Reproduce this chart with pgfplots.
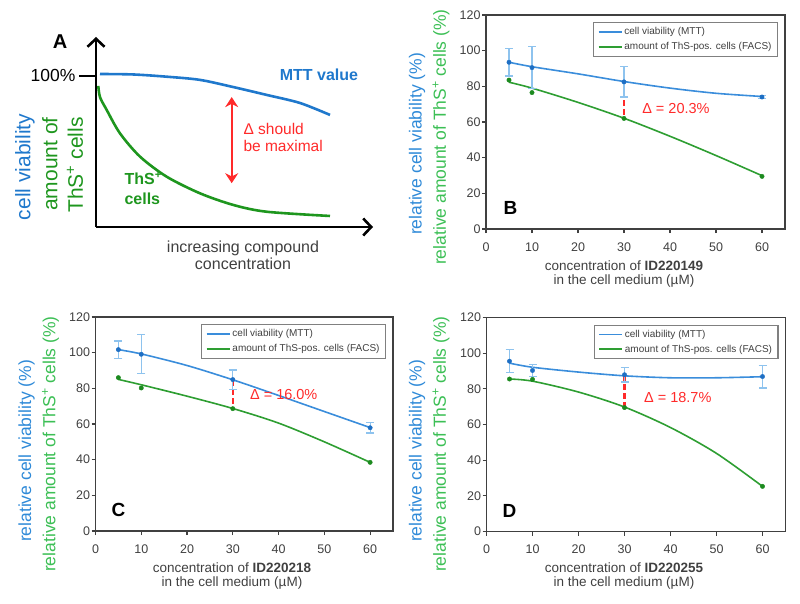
\documentclass[border=0pt]{standalone}
\usepackage{pgfplots}
\pgfplotsset{compat=1.18}
\usepackage{fontspec}
\setmainfont{Liberation Sans}
\usetikzlibrary{arrows.meta}
\definecolor{blueline}{HTML}{3A8DDB}
\definecolor{bluemark}{HTML}{1E6FC4}
\definecolor{blueerr}{HTML}{8EC3EE}
\definecolor{greenline}{HTML}{2E9E32}
\definecolor{greenmark}{HTML}{1C8A1F}
\definecolor{bluelab}{HTML}{2F8AD8}
\definecolor{greenlab}{HTML}{3CBF55}
\definecolor{blueA}{HTML}{1F78CC}
\definecolor{greenA}{HTML}{1E961E}
\definecolor{axgray}{HTML}{404040}
\definecolor{dred}{HTML}{FF2A2A}
\newcommand{\fs}[1]{\fontsize{#1}{#1}\selectfont}
\pgfplotsset{
  panel/.style={scale only axis, anchor=south west,
    width=299pt, height=214pt,
    xmin=0, xmax=65, ymin=0, ymax=120,
    xtick={0,10,...,60}, ytick={0,20,...,120},
    xtick pos=lower, ytick pos=left,
    tick align=outside, major tick length=4pt,
    axis line style={axgray, line width=1.5pt},
    tick style={axgray, line width=1.2pt},
    ticklabel style={font=\fs{12.5}, text=axgray},
    xticklabel style={yshift=-6pt},
    yticklabel style={xshift=2pt},
    /pgf/number format/assume math mode=true,
    clip=false,
    legend cell align=left,
    legend style={at={(rel axis cs:0.977,0.967)}, anchor=north east,
      draw=gray, line width=1.2pt, fill=white, font=\fs{10}, text=axgray,
      inner xsep=4pt, inner ysep=3pt, row sep=2pt},
    legend image code/.code={\draw[##1, line width=1.6pt] (0pt,0pt) -- (23pt,0pt);},
  },
  fitb/.style={blueline, line width=1.6pt, smooth, no marks},
  fitg/.style={greenline, line width=1.6pt, smooth, no marks},
  markb/.style={forget plot, only marks, mark=*, mark size=2.2pt, bluemark,
    error bars/.cd, y dir=both, y explicit,
    error bar style={blueerr, line width=1.2pt},
    error mark options={rotate=90, blueerr, mark size=4pt, line width=1.2pt}},
  markg/.style={forget plot, only marks, mark=*, mark size=2.2pt, greenmark},
  delta/.style={dred, line width=2.2pt, dash pattern=on 6pt off 3pt, forget plot},
}
\begin{document}
\begin{tikzpicture}
\useasboundingbox (0pt,0pt) rectangle (800pt,-604pt);

% ---------------- Panel A ----------------
\begin{axis}[scale only axis, anchor=south west, at={(96pt,-227pt)},
  width=277pt, height=190pt, xmin=0, xmax=277, ymin=0, ymax=125.8,
  axis x line=bottom, axis y line=left,
  every outer x axis line/.append style={black, line width=2.6pt, -{Straight Barb[length=8pt,width=17pt]}},
  every outer y axis line/.append style={black, line width=2.6pt, -{Straight Barb[length=8pt,width=17pt]}},
  xtick=\empty, ytick={100}, yticklabels={100\%},
  tick align=outside, major tick length=17pt,
  tick style={black, line width=2.6pt},
  yticklabel style={font=\fs{17.5}},
  clip=false]
\addplot[blueA, line width=2.6pt, smooth] coordinates {(4,101.3) (37,101) (71,99.5) (104,97.4) (137,92.7) (171,87.4) (204,82.1) (234,74.2)};
\addplot[greenA, line width=2.6pt, smooth] coordinates {(2.3,93.4) (4,86) (10.7,77.5) (24,62) (44,46.6) (70.7,33.3) (104,22.3) (137.3,14.6) (170.7,10.1) (234,7.3)};
\draw[dred, line width=2.2pt, {Stealth[length=10pt,width=13pt]}-{Stealth[length=10pt,width=13pt]}] (axis cs:135.7,86) -- (axis cs:135.7,29);
\end{axis}
\node[font=\bfseries\fs{20}] at (60pt,-42pt) {A};
\node[font=\bfseries\fs{16}, text=blueA] at (319pt,-75pt) {MTT value};
\node[font=\fs{15.5}, text=dred, align=left, anchor=west] at (240pt,-137.5pt) {Δ should\\[1pt]be maximal};
\node[font=\bfseries\fs{16}, text=greenA, align=left, anchor=west] at (121pt,-188.5pt) {ThS\textsuperscript{+}\\[4pt]cells};
\node[font=\fs{21}, text=blueA, rotate=90] at (25pt,-167pt) {cell viability};
\node[font=\fs{21}, text=greenA, rotate=90] at (50pt,-164pt) {amount of};
\node[font=\fs{21}, text=greenA, rotate=90] at (75pt,-165pt) {ThS\textsuperscript{+} cells};
\node[font=\fs{16}, align=center, text=axgray] at (243pt,-255pt) {increasing compound\\[1pt]concentration};

% ---------------- Panel B ----------------
\begin{axis}[panel, at={(486pt,-229pt)}]
\addplot[fitb] coordinates {(5,93.5) (10,91) (20,87) (30,82.7) (40,79) (50,76.1) (60,74.3)};
\addplot[fitg] coordinates {(5,82.3) (10,79) (20,71) (30,62.1) (40,52) (50,41.2) (60,29.9)};
\legend{cell viability (MTT), amount of ThS-pos. cells (FACS)}
\addplot[delta] coordinates {(30,82.5) (30,62)};
\addplot[markb] coordinates {(5,93.5) +- (0,7.7) (10,90.5) +- (0,11.7) (30,82.5) +- (0,8.5) (60,74) +- (0,1)};
\addplot[markg] coordinates {(5,83.5) (10,76.5) (30,62) (60,29.5)};
\node[anchor=west, text=dred, font=\fs{14.5}] at (axis cs:33.2,67.3) {Δ = 20.3\%};
\node[font=\bfseries\fs{19}] at (axis cs:5.3,12) {B};
\end{axis}
\node[rotate=90, font=\fs{17.5}, text=bluelab] at (417pt,-144pt) {relative cell viability (\%)};
\node[rotate=90, font=\fs{17.5}, text=greenlab] at (441pt,-137pt) {relative amount of ThS\textsuperscript{+} cells (\%)};
\node[align=center, font=\fs{13.5}, text=axgray] at (624pt,-274pt) {concentration of \textbf{ID220149}\\[0pt]in the cell medium (µM)};

% ---------------- Panel C ----------------
\begin{axis}[panel, at={(95.5pt,-531pt)}, width=297.5pt]
\addplot[fitb] coordinates {(5,101.7) (10,99.3) (20,92.8) (30,84.8) (40,76) (50,67) (60,58)};
\addplot[fitg] coordinates {(5,85) (10,82) (20,75.6) (30,68.7) (40,60.5) (50,50) (60,38.5)};
\legend{cell viability (MTT), amount of ThS-pos. cells (FACS)}
\addplot[delta] coordinates {(30,84.5) (30,68.6)};
\addplot[markb] coordinates {(5,101.7) +- (0,4.8) (10,99.1) +- (0,11) (30,84.9) +- (0,5.4) (60,57.9) +- (0,3)};
\addplot[markg] coordinates {(5,86) (10,80.2) (30,68.6) (60,38.5)};
\node[anchor=west, text=dred, font=\fs{14.5}] at (axis cs:33,76.5) {Δ = 16.0\%};
\node[font=\bfseries\fs{19}] at (axis cs:5.0,11.7) {C};
\end{axis}
\node[rotate=90, font=\fs{17.5}, text=bluelab] at (26.5pt,-451pt) {relative cell viability (\%)};
\node[rotate=90, font=\fs{17.5}, text=greenlab] at (50.5pt,-444pt) {relative amount of ThS\textsuperscript{+} cells (\%)};
\node[align=center, font=\fs{13.5}, text=axgray] at (232pt,-576pt) {concentration of \textbf{ID220218}\\[0pt]in the cell medium (µM)};

% ---------------- Panel D ----------------
\begin{axis}[panel, at={(486.5pt,-531.5pt)}]
\addplot[fitb] coordinates {(5,94.4) (10,92.1) (20,89.4) (30,87.3) (40,86.2) (50,86.2) (60,86.8)};
\addplot[fitg] coordinates {(5,85.5) (10,84.3) (20,78.2) (30,69.8) (40,58.3) (50,43.8) (60,25.3)};
\legend{cell viability (MTT), amount of ThS-pos. cells (FACS)}
\addplot[delta] coordinates {(30,87.5) (30,69.5)};
\addplot[markb] coordinates {(5,95.5) +- (0,6.4) (10,90.3) +- (0,3.5) (30,87.9) +- (0,4.1) (60,86.9) +- (0,6.4)};
\addplot[markg] coordinates {(5,85.5) (10,85.3) (30,69.5) (60,25.3)};
\node[anchor=west, text=dred, font=\fs{14.5}] at (axis cs:33.5,75) {Δ = 18.7\%};
\node[font=\bfseries\fs{19}] at (axis cs:5.0,11.5) {D};
\end{axis}
\node[rotate=90, font=\fs{17.5}, text=bluelab] at (417pt,-451pt) {relative cell viability (\%)};
\node[rotate=90, font=\fs{17.5}, text=greenlab] at (441pt,-444pt) {relative amount of ThS\textsuperscript{+} cells (\%)};
\node[align=center, font=\fs{13.5}, text=axgray] at (624pt,-576pt) {concentration of \textbf{ID220255}\\[0pt]in the cell medium (µM)};
\end{tikzpicture}
\end{document}
